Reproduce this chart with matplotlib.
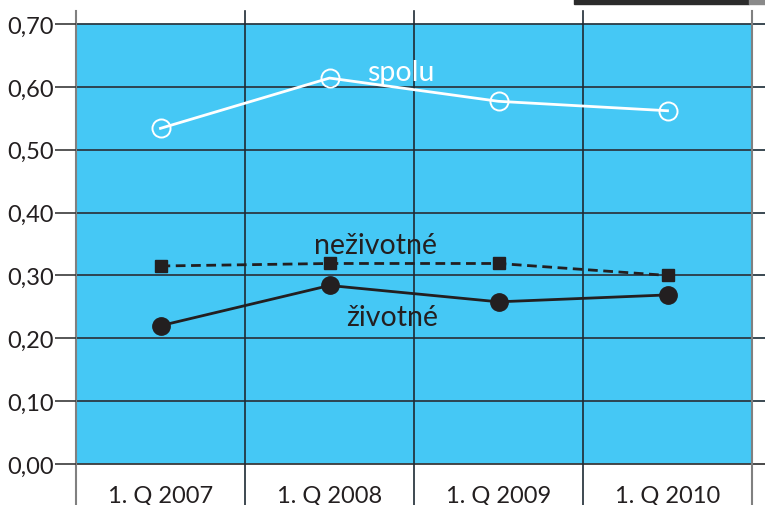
import matplotlib
matplotlib.use("Agg")
import matplotlib.pyplot as plt
from matplotlib.patches import Rectangle

# data
quarters = ["1. Q 2007", "1. Q 2008", "1. Q 2009", "1. Q 2010"]
spolu = [0.534, 0.614, 0.577, 0.562]
nezivotne = [0.315, 0.319, 0.319, 0.300]
zivotne = [0.220, 0.284, 0.258, 0.269]
y_ticks = [0.0, 0.1, 0.2, 0.3, 0.4, 0.5, 0.6, 0.7]
y_labels = ["0,00", "0,10", "0,20", "0,30", "0,40", "0,50", "0,60", "0,70"]

W, H = 765, 506
BLUE = "#45c8f5"
DARK = "#231f20"
plt.rcParams["font.family"] = ["Lato", "DejaVu Sans"]

fig = plt.figure(figsize=(W / 100, H / 100), dpi=100)
L, R, T, B = 76, 752, 25, 465
ax = fig.add_axes([L / W, 1 - B / H, (R - L) / W, (B - T) / H])
ax.set_facecolor(BLUE)
for s in ax.spines.values():
    s.set_visible(False)

x = list(range(len(quarters)))
ax.set_xlim(-0.5, len(quarters) - 0.5)
ax.set_ylim(0, 0.7)

# horizontal grid lines, sticking out past the right edge
for yv in y_ticks:
    ax.axhline(yv, xmin=0, xmax=(W - L) / (R - L), color="#2b3a44" if yv > 0 else "#3a3a3a",
               lw=1.3, clip_on=False, zorder=1)

# vertical separators between quarters
ybot = -(H - B) / (B - T)
ytop = (B - 12) / (B - T)
for i in range(len(quarters) + 1):
    edge = i == 0 or i == len(quarters)
    ax.axvline(i - 0.5, ymin=ybot, ymax=ytop, color="#808080" if edge else "#1e2a33",
               lw=1.5 if edge else 1.2, clip_on=False, zorder=1)

ax.plot(x, spolu, color="white", lw=2.0, marker="o", ms=13, mfc="none",
        mec="white", mew=1.4, zorder=3)
ax.plot(x, nezivotne, color=DARK, lw=2.0, ls=(0, (3.5, 2)), marker="s", ms=8.5,
        mfc=DARK, mec=DARK, zorder=3)
ax.plot(x, zivotne, color=DARK, lw=2.0, marker="o", ms=12.5, mfc=DARK, mec=DARK, zorder=3)

ax.text(1.42, 0.624, "spolu", color="white", fontsize=20.5, ha="center", va="center")
ax.text(1.275, 0.348, "neživotné", color=DARK, fontsize=20.5, ha="center", va="center")
ax.text(1.37, 0.234, "životné", color=DARK, fontsize=20.5, ha="center", va="center")

ax.set_yticks(y_ticks)
ax.set_yticklabels(y_labels)
ax.set_xticks(x)
ax.set_xticklabels(quarters)
ax.tick_params(axis="y", length=15, width=1.2, color="#3a3a3a", pad=1,
               labelsize=17, labelcolor=DARK)
ax.tick_params(axis="x", length=0, pad=15, labelsize=17, labelcolor=DARK)

# dark strip at the top right corner of the scan
fig.patches.append(Rectangle((574 / W, 1 - 5 / H), 175 / W, 5 / H,
                             transform=fig.transFigure, color="#2b2b2b", zorder=5))
fig.patches.append(Rectangle((749 / W, 1 - 5 / H), 16 / W, 5 / H,
                             transform=fig.transFigure, color="#8a8a8a", zorder=5))

fig.savefig("out.png", dpi=100)
